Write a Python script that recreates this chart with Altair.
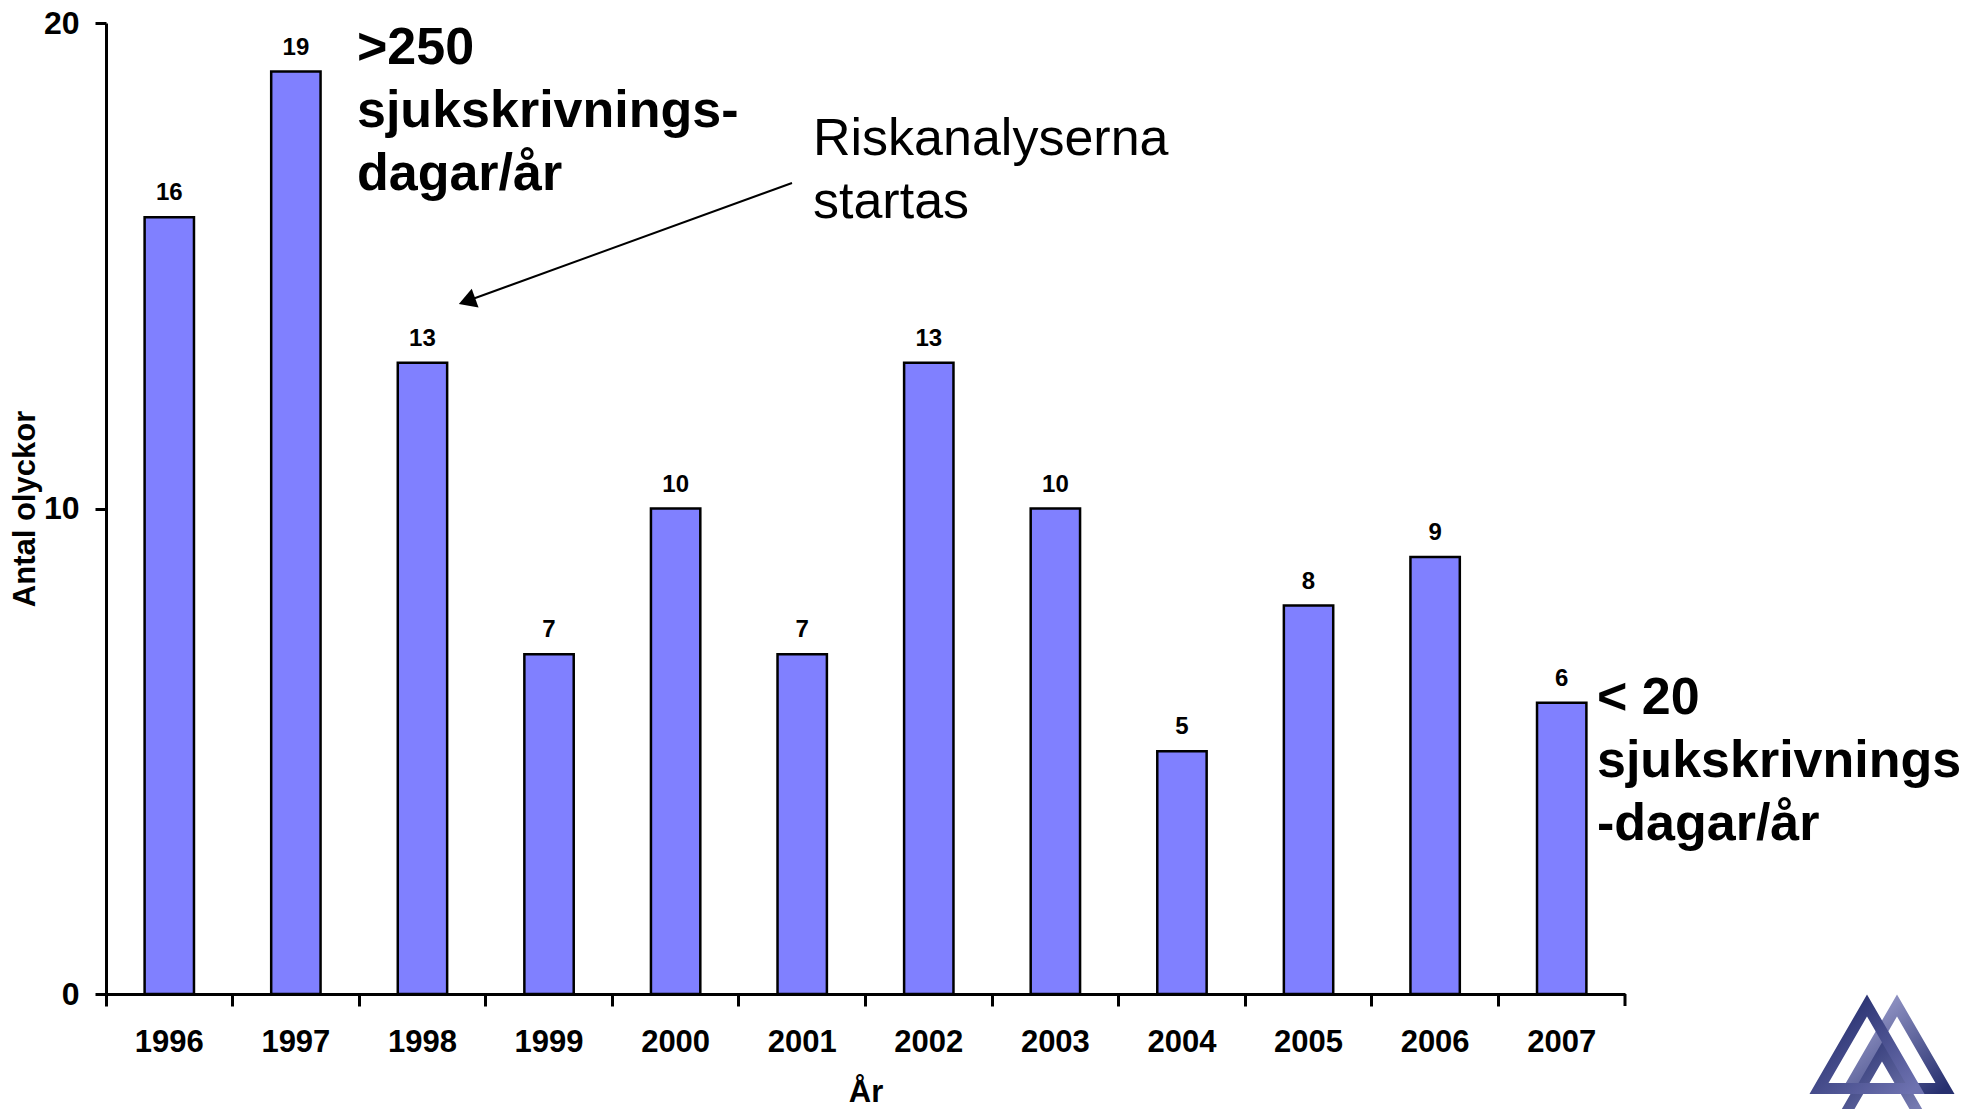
import altair as alt
import pandas as pd

# Yearly accident counts
years = ["1996", "1997", "1998", "1999", "2000", "2001",
         "2002", "2003", "2004", "2005", "2006", "2007"]
accidents = [16, 19, 13, 7, 10, 7, 13, 10, 5, 8, 9, 6]
y_ticks = [0, 10, 20]

# Annotation texts
note_high = [">250", "sjukskrivnings-", "dagar/år"]
note_low = ["< 20", "sjukskrivnings", "-dagar/år"]
note_start = ["Riskanalyserna", "startas"]

df = pd.DataFrame({"year": years, "count": accidents})
one_row = pd.DataFrame({"k": [0]})

W, H = 1519, 971
FONT = "Liberation Sans, Arial, Helvetica, sans-serif"
BAR_FILL = "#8080ff"

x_axis = alt.Axis(
    title="År", bandPosition=0, labelAngle=0,
    labelFont=FONT, labelFontSize=31, labelFontWeight="bold",
    labelBaseline="alphabetic", labelPadding=45,
    tickSize=12, tickWidth=3, tickColor="black",
    domainColor="black", domainWidth=3,
    titleFont=FONT, titleFontSize=31, titleFontWeight="bold",
    titleX=W / 2, titleY=107, titleBaseline="alphabetic", titleAlign="center",
    labelColor="black", titleColor="black",
)
x_enc = alt.X("year:N", sort=years, axis=x_axis,
              scale=alt.Scale(paddingInner=0, paddingOuter=0))

y_axis = alt.Axis(
    title="Antal olyckor", values=y_ticks, grid=False,
    labelFont=FONT, labelFontSize=32, labelFontWeight="bold",
    labelPadding=16, tickSize=11, tickWidth=3, tickColor="black",
    domainColor="black", domainWidth=3,
    titleFont=FONT, titleFontSize=31, titleFontWeight="bold",
    titleX=-81, titleY=H / 2, titleAngle=-90,
    titleBaseline="middle", titleAlign="center",
    labelColor="black", titleColor="black",
)
y_enc = alt.Y("count:Q", axis=y_axis,
              scale=alt.Scale(domain=[0, 20], nice=False, zero=True))

bars = alt.Chart(df).mark_bar(
    fill=BAR_FILL, stroke="black", strokeWidth=2.5,
    width=alt.RelativeBandSize(0.39),
).encode(x=x_enc, y=y_enc)

values = alt.Chart(df).mark_text(
    font=FONT, fontSize=24, fontWeight="bold", color="black",
    baseline="alphabetic", dy=-17,
).encode(x=x_enc, y=y_enc, text="count:Q")

# closing tick at the right end of the category axis
end_tick = alt.Chart(df).transform_filter(
    alt.datum.year == years[-1]
).mark_rule(color="black", strokeWidth=3).encode(
    x=alt.X("year:N", sort=years, axis=x_axis, bandPosition=1,
            scale=alt.Scale(paddingInner=0, paddingOuter=0)),
    y=alt.value(H), y2=alt.value(H + 12),
)


def note(lines, x, y, size, weight):
    return alt.Chart(one_row).mark_text(
        text=lines, font=FONT, fontSize=size, fontWeight=weight,
        color="black", align="left", baseline="alphabetic",
        lineHeight=63,
    ).encode(x=alt.value(x), y=alt.value(y))


high = note(note_high, 251, 41, 52, "bold")
low = note(note_low, 1491, 691, 52, "bold")
start = note(note_start, 707, 132, 52, "normal")

arrow_line = alt.Chart(one_row).mark_rule(color="black", strokeWidth=2).encode(
    x=alt.value(686), y=alt.value(160), x2=alt.value(361), y2=alt.value(278)
)
arrow_head = alt.Chart(one_row).mark_point(
    shape="triangle-up", size=400, filled=True, color="black",
    opacity=1, angle=250,
).encode(x=alt.value(361), y=alt.value(278))


# interlaced triangle emblem in the lower right corner
def emblem(x, y, c1, c2):
    shade = alt.Gradient(
        gradient="linear", x1=0, y1=0, x2=1, y2=1,
        stops=[alt.GradientStop(color=c1, offset=0),
               alt.GradientStop(color=c2, offset=1)],
    )
    return alt.Chart(one_row).mark_point(
        shape="triangle-up", size=9216, filled=False, stroke=shade,
        strokeWidth=11, opacity=1, strokeJoin="miter",
    ).encode(x=alt.value(x), y=alt.value(y))


logo = [
    emblem(1776, 1069, "#27306f", "#8d90c4"),
    emblem(1791, 1024, "#a4a6d4", "#27306f"),
    emblem(1761, 1024, "#1f2868", "#6e72b0"),
]

chart = alt.layer(
    bars, values, end_tick, high, low, start, arrow_line, arrow_head, *logo
).properties(
    width=W, height=H,
    autosize=alt.AutoSizeParams(type="none"),
    padding={"left": 106, "top": 23, "right": 353, "bottom": 115},
    background="white",
).configure_view(stroke=None)

chart.save("out.html", embed_options={"renderer": "svg", "actions": False})
